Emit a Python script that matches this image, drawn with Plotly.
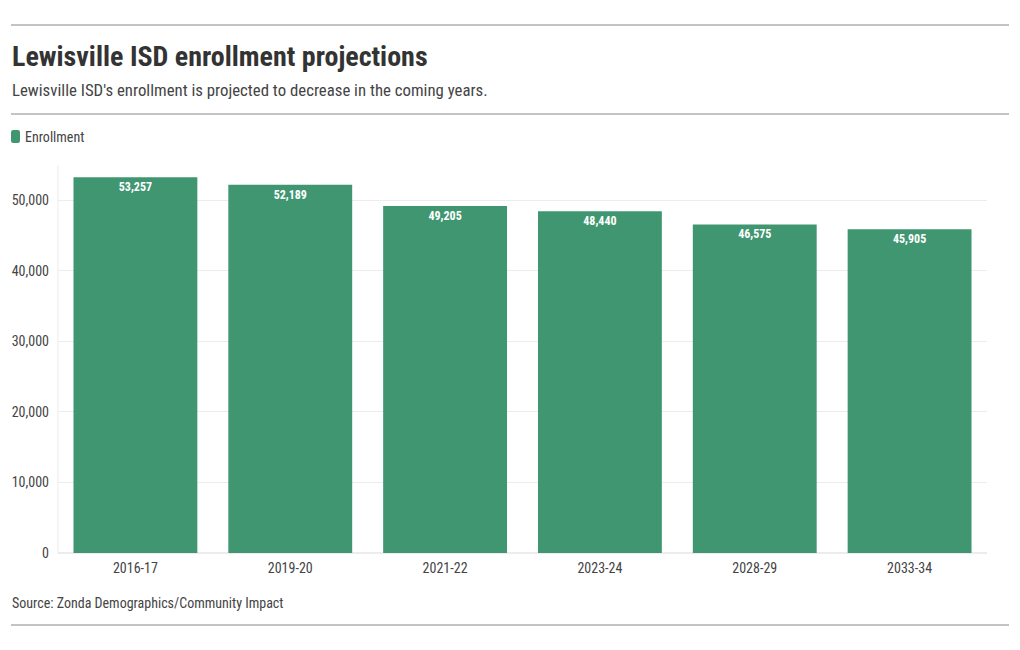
import plotly.graph_objects as go

categories = ["2016-17", "2019-20", "2021-22", "2023-24", "2028-29", "2033-34"]
enrollment = [53257, 52189, 49205, 48440, 46575, 45905]
y_ticks = [0, 10000, 20000, 30000, 40000, 50000]
y_tick_labels = ["0", "10,000", "20,000", "30,000", "40,000", "50,000"]

FONT = "Roboto Condensed, Liberation Sans Narrow, DejaVu Sans Condensed, Roboto, sans-serif"
BAR = "#419672"

fig = go.Figure()
fig.add_trace(go.Bar(
    x=categories, y=enrollment, name="Enrollment",
    marker=dict(color=BAR, line=dict(width=0)),
    text=[f"{v:,}" for v in enrollment], textposition="inside",
    insidetextanchor="end", textangle=0,
    textfont=dict(family=FONT, size=12, color="white", weight="bold"),
    showlegend=False, cliponaxis=False,
))

fig.update_layout(
    width=1020, height=650,
    margin=dict(l=58, r=33, t=165, b=97),
    paper_bgcolor="white", plot_bgcolor="white",
    bargap=0.2,
    font=dict(family=FONT, color="#444"),
    xaxis=dict(tickfont=dict(size=14, color="#444"), showgrid=False, showline=False,
               ticks="", fixedrange=True, ticklabelstandoff=5),
    yaxis=dict(range=[0, 55000], tickvals=y_ticks, ticktext=y_tick_labels,
               tickfont=dict(size=14, color="#444"), gridcolor="#ececec",
               zeroline=True, zerolinecolor="#ececec", showline=False, ticks="",
               ticklabelstandoff=8),
    shapes=[
        dict(type="line", xref="x domain", yref="y domain", x0=0, x1=0, y0=0, y1=1,
             line=dict(color="#ececec", width=1)),
    ],
)

W0, W1 = 58, 987
T0, B0 = 165, 553
def px_x(px):
    return (px - W0) / (W1 - W0)
def px_y(py):
    return (B0 - py) / (B0 - T0)

for yy in [25, 114, 625]:
    fig.add_shape(type="line", xref="paper", yref="paper",
                  x0=px_x(11), x1=px_x(1009), y0=px_y(yy), y1=px_y(yy),
                  line=dict(color="#888", width=1))

# rounded legend swatch
x0, x1, y0, y1 = px_x(11), px_x(20), px_y(143), px_y(130)
rx = (x1 - x0) * 0.25
ry = (y1 - y0) * 0.17
path = (f"M {x0+rx},{y0} L {x1-rx},{y0} Q {x1},{y0} {x1},{y0+ry} L {x1},{y1-ry} "
        f"Q {x1},{y1} {x1-rx},{y1} L {x0+rx},{y1} Q {x0},{y1} {x0},{y1-ry} "
        f"L {x0},{y0+ry} Q {x0},{y0} {x0+rx},{y0} Z")
fig.add_shape(type="path", xref="paper", yref="paper", path=path,
              fillcolor=BAR, line=dict(width=0))

fig.add_annotation(text="<b>Lewisville ISD enrollment projections</b>", xref="paper", yref="paper",
                   x=px_x(10), y=px_y(56), xanchor="left", yanchor="middle", showarrow=False,
                   font=dict(family=FONT, size=28, color="#333"))
fig.add_annotation(text="Lewisville ISD's enrollment is projected to decrease in the coming years.",
                   xref="paper", yref="paper", x=px_x(10), y=px_y(90), xanchor="left", yanchor="middle",
                   showarrow=False, font=dict(family=FONT, size=16.8, color="#444"))
fig.add_annotation(text="Enrollment", xref="paper", yref="paper", x=px_x(23), y=px_y(137),
                   xanchor="left", yanchor="middle", showarrow=False,
                   font=dict(family=FONT, size=14, color="#444"))
fig.add_annotation(text="Source: Zonda Demographics/Community Impact", xref="paper", yref="paper",
                   x=px_x(10), y=px_y(603), xanchor="left", yanchor="middle", showarrow=False,
                   font=dict(family=FONT, size=14, color="#444"))

fig.write_html("out.html")
